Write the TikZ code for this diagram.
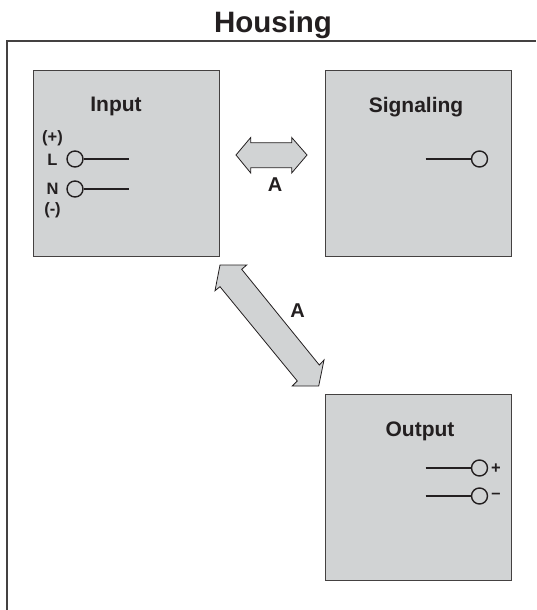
\documentclass[tikz,border=0pt]{standalone}
\usepackage{fontspec}
\setmainfont{Liberation Sans}
\definecolor{boxgray}{HTML}{D1D3D4}
\definecolor{ink}{HTML}{231F20}
\tikzset{
  panel/.style={draw=ink!85,fill=boxgray,line width=1.1pt,minimum width=186pt,minimum height=186pt,inner sep=0pt,anchor=north west},
  term/.style={circle,draw=ink,fill=boxgray,line width=1.4pt,minimum size=16pt,inner sep=0pt},
  wire/.style={draw=ink,line width=1.4pt},
  dblarrow/.style={draw=ink,fill=boxgray,line width=0.8pt,line join=miter},
  paneltitle/.style={font=\fontsize{21}{24}\selectfont\bfseries,text=ink,inner sep=0pt},
  smalllabel/.style={font=\fontsize{16.5}{18}\selectfont\bfseries,text=ink,inner sep=0pt},
  arrowlabel/.style={font=\fontsize{20}{22}\selectfont\bfseries,text=ink,inner sep=0pt}
}
\begin{document}
\begin{tikzpicture}[x=1pt,y=-1pt]
\useasboundingbox (0,0) rectangle (536,610);
\node[font=\fontsize{29.5}{32}\selectfont\bfseries,text=ink,inner sep=0pt] (housing) at (273,24.5) {Housing};
\draw[draw=ink!85,line width=1.4pt] (7,610) -- (7,41) -- (536,41);
\node[panel] (input) at (32.5,69.5) {};
\node[panel] (signaling) at (324.5,69.5) {};
\node[panel] (output) at (324.5,394) {};
\node[paneltitle] (tinput) at (116,106.5) {Input};
\node[paneltitle] (tsignaling) at (416,107.5) {Signaling};
\node[paneltitle] (toutput) at (420,431.5) {Output};
\node[term] (cl) at (75,159) {};
\coordinate (el) at (129,159);
\draw[wire] (cl) -- (el);
\node[term] (cn) at (75,189) {};
\coordinate (en) at (129,189);
\draw[wire] (cn) -- (en);
\node[smalllabel] (plus) at (52.5,138) {(+)};
\node[smalllabel] (l) at (52.5,160) {L};
\node[smalllabel] (n) at (52.5,188.5) {N};
\node[smalllabel] (minus) at (52.5,210) {(-)};
\node[term] (cs) at (479.5,159) {};
\coordinate (es) at (425.5,159);
\draw[wire] (es) -- (cs);
\node[term] (cp) at (479.5,468) {};
\coordinate (ep) at (425.5,468);
\draw[wire] (ep) -- (cp);
\node[term] (cm) at (479.5,496) {};
\coordinate (em) at (425.5,496);
\draw[wire] (em) -- (cm);
\node[smalllabel] (op) at (496,469) {+};
\node[smalllabel] (om) at (496,496) {–};
\draw[dblarrow] (236,155) -- (250.7,137.5) -- (250.7,142.7) -- (291.7,142.7) -- (291.7,137.5) -- (307,155) -- (291.7,173) -- (291.7,167.7) -- (250.7,167.7) -- (250.7,173) -- cycle;
\draw[dblarrow] (220,265) -- (246.7,265) -- (241.7,269.3) -- (319.3,365) -- (324,360) -- (318.7,386) -- (292.3,386) -- (297.3,381) -- (220,286.7) -- (215,290.7) -- cycle;
\node[arrowlabel] (a1) at (275,184.5) {A};
\node[arrowlabel] (a2) at (297.5,310.5) {A};
\end{tikzpicture}
\end{document}
